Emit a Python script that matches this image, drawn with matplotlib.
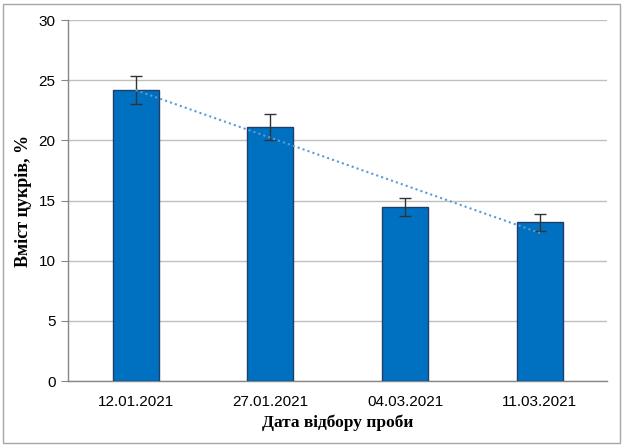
import matplotlib
matplotlib.use("Agg")
import matplotlib.pyplot as plt
import numpy as np
from matplotlib.patches import Rectangle

categories = ["12.01.2021", "27.01.2021", "04.03.2021", "11.03.2021"]
values = [24.2, 21.1, 14.5, 13.2]
errors = [1.15, 1.1, 0.75, 0.7]
yticks = [0, 5, 10, 15, 20, 25, 30]

fig = plt.figure(figsize=(6.26, 4.46), dpi=100)
ax = fig.add_axes([0.109, 0.1457, 0.861, 0.809])

x = np.arange(len(categories))
ax.bar(x, values, width=0.34, color="#0070C0", edgecolor="#1F3F6A", linewidth=1.0, zorder=3)
ax.errorbar(x, values, yerr=errors, fmt="none", ecolor="#333333", elinewidth=1.0,
            capsize=4, capthick=1.0, zorder=4)

coef = np.polyfit(x, values, 1)
ax.plot([x[0], x[-1]], np.polyval(coef, [x[0], x[-1]]), linestyle=(0, (1, 1.5)),
        color="#5B9BD5", linewidth=1.5, zorder=5)

ax.set_xlim(-0.5, len(categories) - 0.5)
ax.set_ylim(0, 30)
ax.set_yticks(yticks)
ax.set_xticks(x)
ax.set_xticklabels(categories)
ax.yaxis.grid(True, color="#C0C0C0", linewidth=1.0, zorder=0)
ax.set_axisbelow(True)
for s in ["top", "right"]:
    ax.spines[s].set_visible(False)
for s in ["left", "bottom"]:
    ax.spines[s].set_color("#868686")
    ax.spines[s].set_linewidth(1.0)
ax.tick_params(axis="y", length=5, color="#868686", labelsize=11, pad=4)
ax.tick_params(axis="x", length=0, labelsize=11, pad=10)
for lab in ax.get_xticklabels() + ax.get_yticklabels():
    lab.set_fontfamily("Liberation Sans")

ax.set_ylabel("Вміст цукрів, %", fontfamily="Liberation Serif", fontweight="bold",
              fontsize=13, labelpad=4.5)
ax.set_xlabel("Дата відбору проби", fontfamily="Liberation Serif", fontweight="bold",
              fontsize=12.5, labelpad=4)

fig.patches.append(Rectangle((0.0048, 0.0067), 0.9856, 0.9843, transform=fig.transFigure,
                             fill=False, edgecolor="#A6A6A6", linewidth=1.0))

fig.savefig("out.png", dpi=100)
